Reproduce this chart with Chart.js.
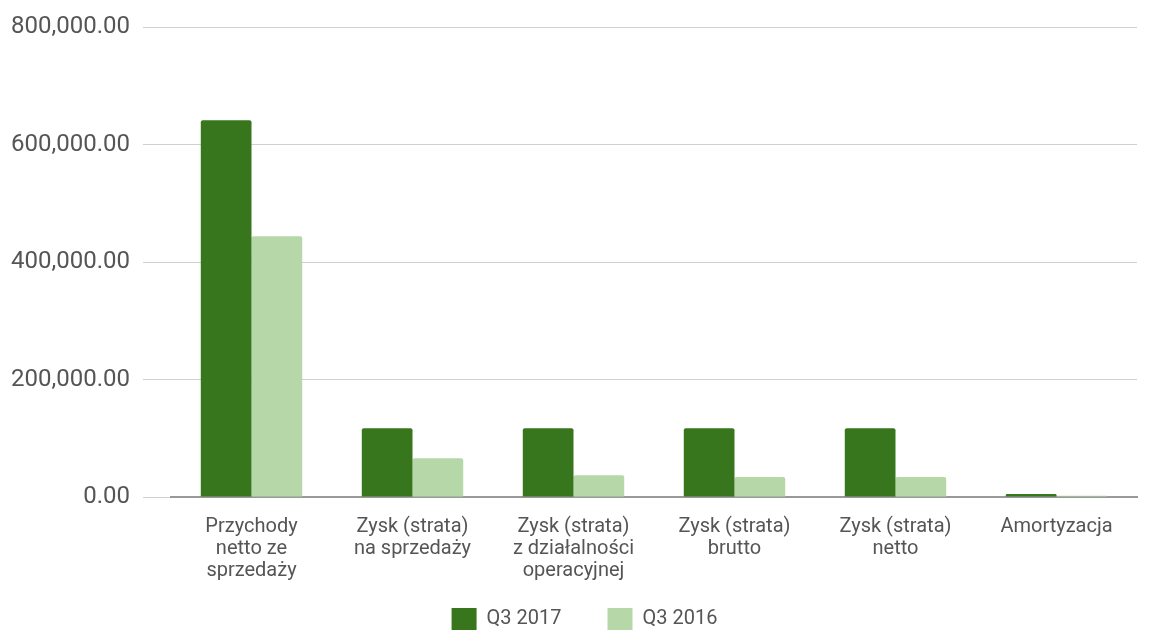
<!DOCTYPE html>
<html>
<head>
<meta charset="utf-8">
<script src="https://cdn.jsdelivr.net/npm/chart.js@4"></script>
<style>
  html, body { margin: 0; padding: 0; background: #fff; }
  #wrap { width: 1153px; height: 631px; }
</style>
</head>
<body>
<div id="wrap"><canvas id="chart" width="1153" height="631"></canvas></div>
<script>
// dane
const categories = [
  ["Przychody", "netto ze", "sprzedaży"],
  ["Zysk (strata)", "na sprzedaży"],
  ["Zysk (strata)", "z działalności", "operacyjnej"],
  ["Zysk (strata)", "brutto"],
  ["Zysk (strata)", "netto"],
  ["Amortyzacja"]
];
const q3_2017 = [642000, 117000, 117000, 117000, 117000, 5000];
const q3_2016 = [444000, 66000, 37000, 34000, 34000, 2000];
const yTicks = [0, 200000, 400000, 600000, 800000];

const fmt = v => v.toLocaleString("en-US", { minimumFractionDigits: 2, maximumFractionDigits: 2 });

// legenda: mniejsza wysokość i rysowanie trochę wyżej (duży odstęp poziomy zostaje)
const legendFix = {
  id: "legendFix",
  beforeUpdate(chart) {
    const lg = chart.legend;
    if (lg && !lg._patched) {
      const origFit = lg.fit.bind(lg);
      const origDraw = lg.draw.bind(lg);
      lg.fit = function () { origFit(); this.height = 46; };
      lg.draw = function () {
        const top = this.top, left = this.left;
        this.top = top - 23;
        this.left = left + 32;
        origDraw();
        this.top = top;
        this.left = left;
      };
      lg._patched = true;
    }
  }
};

new Chart(document.getElementById("chart").getContext("2d"), {
  type: "bar",
  data: {
    labels: categories,
    datasets: [
      { label: "Q3 2017", data: q3_2017, backgroundColor: "#38761d", borderRadius: 2, borderSkipped: "bottom" },
      { label: "Q3 2016", data: q3_2016, backgroundColor: "#b6d7a8", borderRadius: 2, borderSkipped: "bottom" }
    ]
  },
  plugins: [legendFix],
  options: {
    responsive: false,
    animation: false,
    devicePixelRatio: 1,
    layout: { padding: { top: 14, right: 16, left: 0, bottom: 0 } },
    datasets: { bar: { categoryPercentage: 0.63, barPercentage: 1.0 } },
    plugins: {
      tooltip: { enabled: false },
      legend: {
        position: "bottom",
        labels: {
          color: "#555",
          font: { family: "Roboto", size: 20 },
          boxWidth: 25,
          boxHeight: 22,
          padding: 46
        }
      }
    },
    scales: {
      x: {
        grid: { display: false },
        border: { color: "#999", width: 2 },
        afterFit: s => { s.height = 88; },
        ticks: {
          color: "#555",
          font: { family: "Roboto", size: 20, lineHeight: 1.1 },
          maxRotation: 0,
          autoSkip: false,
          padding: 11
        }
      },
      y: {
        min: 0,
        max: 800000,
        afterBuildTicks: s => { s.ticks = yTicks.map(v => ({ value: v })); },
        afterFit: s => { s.width = 171; },
        border: { display: false },
        grid: { color: "#d0d0d0", lineWidth: 1, tickLength: 28 },
        ticks: {
          color: "#555",
          font: { family: "Roboto", size: 24 },
          padding: 13,
          callback: v => fmt(v)
        }
      }
    }
  }
});
</script>
</body>
</html>
